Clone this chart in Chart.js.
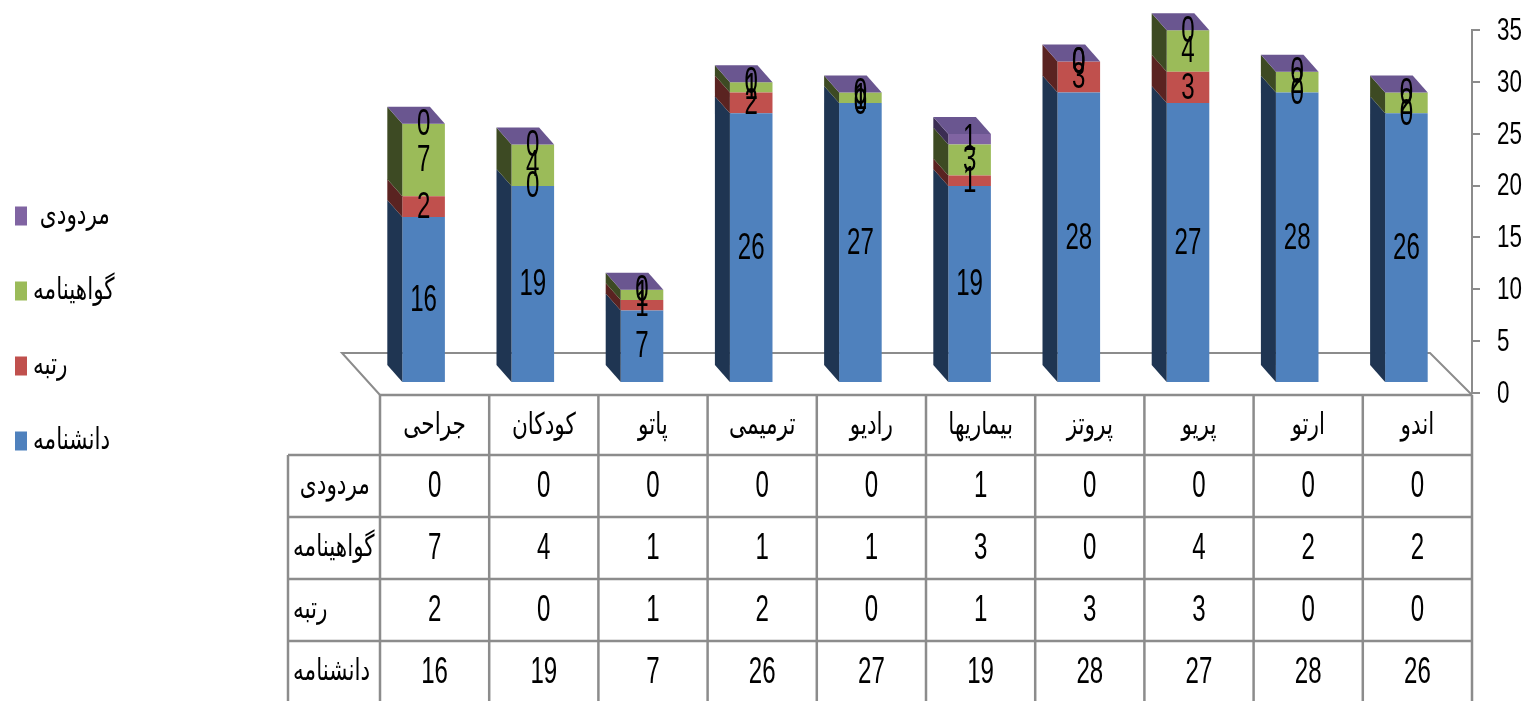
<!DOCTYPE html>
<html>
<head>
<meta charset="utf-8">
<script src="https://cdn.jsdelivr.net/npm/chart.js@4.4.1/dist/chart.umd.min.js"></script>
<style>
  html, body { margin: 0; padding: 0; background: #fff; }
  canvas { display: block; }
</style>
</head>
<body>
<canvas id="chart" width="1534" height="701"></canvas>
<script>
const categories = ['جراحی', 'کودکان', 'پاتو', 'ترمیمی', 'رادیو', 'بیماریها', 'پروتز', 'پریو', 'ارتو', 'اندو']
const seriesNames = ['دانشنامه', 'رتبه', 'گواهینامه', 'مردودی ']
const daneshnameh = [16, 19, 7, 26, 27, 19, 28, 27, 28, 26]
const rotbeh = [2, 0, 1, 2, 0, 1, 3, 3, 0, 0]
const govahinameh = [7, 4, 1, 1, 1, 3, 0, 4, 2, 2]
const mardoodi = [0, 0, 0, 0, 0, 1, 0, 0, 0, 0]
const yTicks = [0, 5, 10, 15, 20, 25, 30, 35]

const frontColors = ['#4f81bd', '#c0504d', '#9bbb59', '#8064a2']
const sideColors = ['#1f3552', '#5a2321', '#3d4a23', '#3b2d52']
const capColor = '#6a5690'
const lineColor = '#8c8c8c'
const depth = { x: 15, y: 17 } // bar side / cap
const barShift = { x: -11, y: -10 } // bars stand in the middle of the floor
const floorDepth = { x: 38, y: 42 }
const digitFont = "37px 'Liberation Sans', Arial, sans-serif"
const farsiFont = "30px 'DejaVu Sans', sans-serif"

// draws text squeezed horizontally, like the stretched original
function drawText (ctx, text, x, y, font, sx, align, rtl) {
  ctx.save()
  ctx.font = font
  ctx.fillStyle = '#000'
  ctx.direction = rtl ? 'rtl' : 'ltr'
  ctx.textAlign = align
  ctx.textBaseline = 'middle'
  ctx.translate(x, y)
  ctx.scale(sx, 1)
  ctx.fillText(text, 0, 0)
  ctx.restore()
}

function line (ctx, x1, y1, x2, y2) {
  ctx.beginPath()
  ctx.moveTo(x1, y1)
  ctx.lineTo(x2, y2)
  ctx.stroke()
}

const bars3d = {
  id: 'bars3d',
  beforeDatasetsDraw (chart) {
    const { ctx, chartArea: a } = chart
    const fy = a.bottom + 2
    ctx.save()
    ctx.strokeStyle = lineColor
    ctx.lineWidth = 2
    ctx.beginPath()
    ctx.moveTo(a.left, fy)
    ctx.lineTo(a.left - floorDepth.x, fy - floorDepth.y)
    ctx.lineTo(a.right - floorDepth.x - 4, fy - floorDepth.y)
    ctx.lineTo(a.right, fy)
    ctx.stroke()
    ctx.restore()
    ctx.save()
    ctx.translate(barShift.x, barShift.y)
  },
  afterDatasetsDraw (chart) {
    const { ctx } = chart
    const metas = chart.data.datasets.map((d, i) => chart.getDatasetMeta(i))
    metas.forEach((meta, di) => {
      meta.data.forEach(bar => {
        const left = bar.x - bar.width / 2
        if (bar.base - bar.y < 0.5) return
        ctx.fillStyle = sideColors[di]
        ctx.beginPath()
        ctx.moveTo(left, bar.base)
        ctx.lineTo(left, bar.y)
        ctx.lineTo(left - depth.x, bar.y - depth.y)
        ctx.lineTo(left - depth.x, bar.base - depth.y)
        ctx.closePath()
        ctx.fill()
      })
    })
    // cap on top of the stack
    const top = metas[metas.length - 1]
    top.data.forEach(bar => {
      const left = bar.x - bar.width / 2
      const right = bar.x + bar.width / 2
      ctx.fillStyle = capColor
      ctx.beginPath()
      ctx.moveTo(left, bar.y)
      ctx.lineTo(right, bar.y)
      ctx.lineTo(right - depth.x, bar.y - depth.y)
      ctx.lineTo(left - depth.x, bar.y - depth.y)
      ctx.closePath()
      ctx.fill()
    })
    metas.forEach((meta, di) => {
      const values = chart.data.datasets[di].data
      meta.data.forEach((bar, i) => {
        drawText(ctx, String(values[i]), bar.x, (bar.y + bar.base) / 2 + 1, digitFont, 0.65, 'center')
      })
    })
    ctx.restore()
  },
  afterDraw (chart) {
    const { ctx, chartArea: a, scales } = chart
    const n = categories.length
    const colW = (a.right - a.left) / n
    const top = a.bottom + 2
    const headH = 60
    const rowH = 62
    const labelLeft = a.left - 92
    const rows = chart.data.datasets.slice().reverse()

    // y tick labels
    scales.y.ticks.forEach(t => {
      drawText(ctx, String(t.value), a.right + 25, scales.y.getPixelForValue(t.value) + 1, "32px 'Liberation Sans', Arial, sans-serif", 0.7, 'left')
    })

    // data table
    ctx.save()
    ctx.strokeStyle = lineColor
    ctx.lineWidth = 2.5
    const bottom = top + headH + rowH * rows.length
    line(ctx, a.left, top, a.right, top)
    for (let r = 0; r <= rows.length; r++) {
      const y = top + headH + r * rowH
      line(ctx, labelLeft, y, a.right, y)
    }
    for (let c = 0; c <= n; c++) {
      const x = a.left + c * colW
      line(ctx, x, top, x, bottom)
    }
    line(ctx, labelLeft, top + headH, labelLeft, bottom)
    ctx.restore()

    categories.forEach((cat, i) => {
      drawText(ctx, cat, scales.x.getPixelForValue(i), top + headH / 2 + 1, farsiFont, 0.72, 'center', true)
    })
    rows.forEach((ds, r) => {
      const cy = top + headH + r * rowH + rowH / 2
      drawText(ctx, ds.label, labelLeft + 5, cy, farsiFont, 0.72, 'left', true)
      ds.data.forEach((v, i) => {
        drawText(ctx, String(v), scales.x.getPixelForValue(i), cy + 1, digitFont, 0.65, 'center')
      })
    })

    // legend
    rows.forEach((ds, r) => {
      const cy = 216 + r * 75
      ctx.fillStyle = ds.backgroundColor
      ctx.fillRect(15, cy - 9.5, 12, 19)
      drawText(ctx, ds.label, 33, cy, farsiFont, 0.72, 'left', true)
    })
  }
}

const seriesValues = [daneshnameh, rotbeh, govahinameh, mardoodi]

new Chart(document.getElementById('chart'), { // eslint-disable-line
  type: 'bar',
  data: {
    labels: categories,
    datasets: seriesNames.map((name, i) => ({
      label: name,
      data: seriesValues[i],
      backgroundColor: frontColors[i],
      borderWidth: 0,
      barPercentage: 0.39,
      categoryPercentage: 1,
      clip: false
    }))
  },
  options: {
    responsive: false,
    animation: false,
    devicePixelRatio: 1,
    layout: { padding: { left: 380, top: 30, bottom: 308, right: 0 } },
    plugins: {
      legend: { display: false },
      tooltip: { enabled: false }
    },
    scales: {
      x: {
        stacked: true,
        display: false
      },
      y: {
        stacked: true,
        position: 'right',
        min: 0,
        max: 35,
        afterBuildTicks: scale => { scale.ticks = yTicks.map(v => ({ value: v })) },
        afterFit: scale => { scale.width = 62 },
        ticks: { display: false },
        grid: { drawOnChartArea: false, tickLength: 8, color: lineColor, lineWidth: 2 },
        border: { color: lineColor, width: 2 }
      }
    }
  },
  plugins: [bars3d]
})
</script>
</body>
</html>
